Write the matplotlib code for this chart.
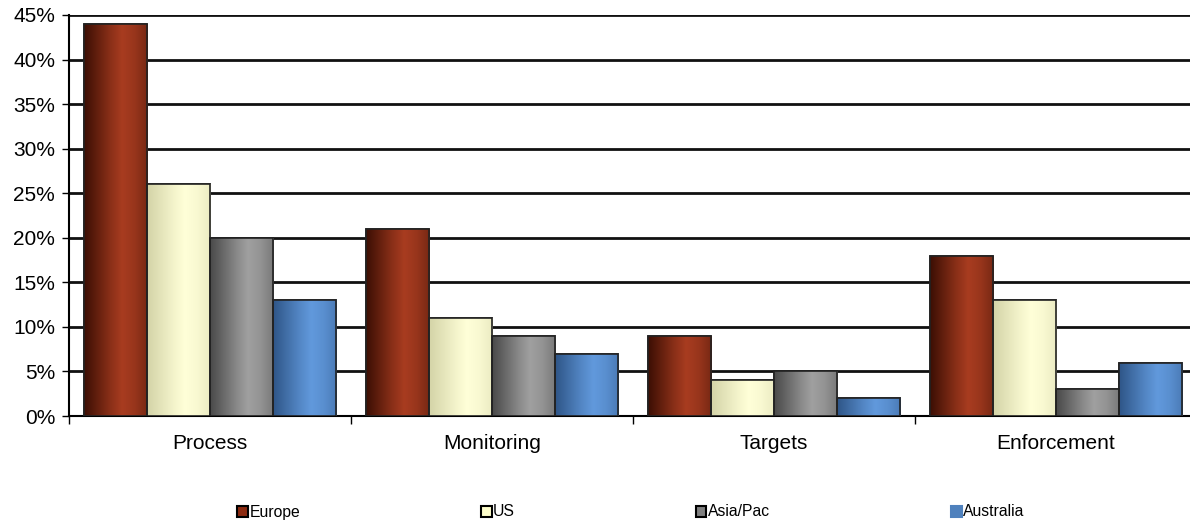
import numpy as np
import matplotlib
matplotlib.use('Agg')
import matplotlib.pyplot as plt
from matplotlib.colors import LinearSegmentedColormap
from matplotlib.patches import Patch
from matplotlib.ticker import PercentFormatter

# Dados
categorias = ['Process', 'Monitoring', 'Targets', 'Enforcement']
regioes = ['Europe', 'US', 'Asia/Pac', 'Australia']
europe = [44, 21, 9, 18]
us = [26, 11, 4, 13]
asia_pac = [20, 9, 5, 3]
australia = [13, 7, 2, 6]
valores = [europe, us, asia_pac, australia]

# Cores (escuro, claro) para o gradiente de cada série
gradientes = [('#3d0f04', '#a83c20'), ('#d4d4a8', '#ffffd8'),
              ('#4a4a4a', '#a0a0a0'), ('#2f5688', '#6199dc')]
cores_legenda = ['#8b2a10', '#ffffcc', '#808080', '#4f81bd']

plt.rcParams['font.family'] = ['Liberation Sans', 'DejaVu Sans']

fig = plt.figure(figsize=(11.9, 5.23), dpi=100)
ax = fig.add_axes([69 / 1190, 1 - 416 / 523, 1128 / 1190, 401 / 523])

x = np.arange(len(categorias))
largura = 0.2235
perfil = np.array([0.0, 0.35, 0.7, 1.0, 0.85, 0.55])

for i, serie in enumerate(valores):
    desloc = (i - 1.5) * largura
    barras = ax.bar(x + desloc, serie, largura, color=gradientes[i][1],
                    edgecolor='#222222', linewidth=1.2, zorder=3)
    cmap = LinearSegmentedColormap.from_list('g%d' % i, gradientes[i])
    grad = np.interp(np.linspace(0, 1, 64), np.linspace(0, 1, len(perfil)), perfil)[None, :]
    for b in barras:
        im = ax.imshow(grad, cmap=cmap, aspect='auto', vmin=0, vmax=1,
                       extent=(b.get_x(), b.get_x() + b.get_width(), 0, b.get_height()),
                       zorder=3.5, interpolation='bilinear')
        im.set_clip_path(b)
    # contorno por cima do gradiente
    ax.bar(x + desloc, serie, largura, fill=False, edgecolor='#222222',
           linewidth=1.2, zorder=4)

ax.set_xlim(-0.5, 3.5)
ax.set_ylim(0, 45)
ax.set_yticks(range(0, 46, 5))
ax.yaxis.set_major_formatter(PercentFormatter(decimals=0))
ax.grid(axis='y', color='#111111', linewidth=2, zorder=1)

ax.set_xticks(np.arange(-0.5, 4, 1))
ax.set_xticklabels([])
ax.set_xticks(x, minor=True)
ax.set_xticklabels(categorias, minor=True)
ax.tick_params(axis='x', which='major', length=6, width=1, direction='out')
ax.tick_params(axis='x', which='minor', length=0, pad=13, labelsize=15)
ax.tick_params(axis='y', length=5, width=1, labelsize=15, pad=5)

for lado in ['top', 'right']:
    ax.spines[lado].set_visible(False)
ax.spines['left'].set_linewidth(1.5)
ax.spines['bottom'].set_linewidth(1.5)

handles = [Patch(facecolor=cores_legenda[i],
                 edgecolor='black' if i < 3 else cores_legenda[i], linewidth=1.5)
           for i in range(4)]
fig.legend(handles, regioes, loc='center', bbox_to_anchor=(0.53, 1 - 512 / 523),
           ncol=4, frameon=False, fontsize=11.3, handlelength=0.7, handleheight=0.7,
           handletextpad=0.1, columnspacing=11.5)

fig.savefig('out.png', dpi=100)
